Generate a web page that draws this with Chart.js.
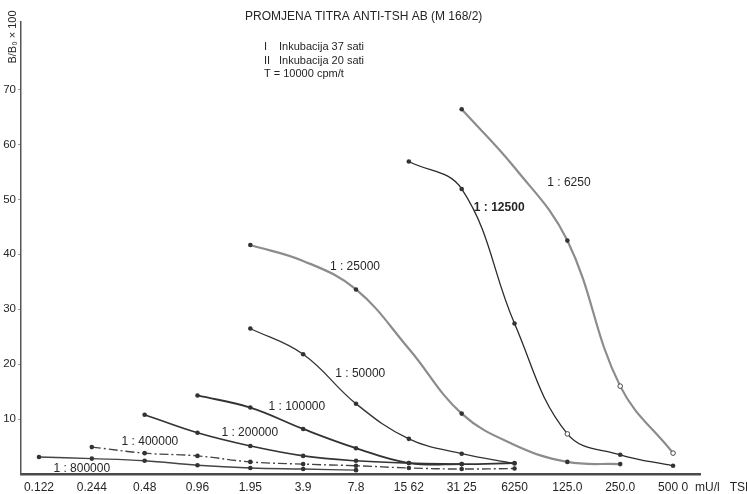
<!DOCTYPE html>
<html>
<head>
<meta charset="utf-8">
<script src="https://cdn.jsdelivr.net/npm/chart.js@4/dist/chart.umd.min.js"></script>
<style>
  html, body { margin: 0; padding: 0; background: #fff; }
  canvas { display: block; }
</style>
</head>
<body>
<canvas id="c" width="747" height="494"></canvas>
<script>
// TSH concentration steps (mU/l), as printed under the axis
const doses = ['0.122', '0.244', '0.48', '0.96', '1.95', '3.9', '7.8', '15 62', '31 25', '6250', '125.0', '250.0', '500 0'];

// B/B0 x 100 for each antibody dilution (null = not on that curve)
const dil6250   = [null, null, null, null, null, null, null, null, 66.4, 55.8, 42.5, 16.0, 3.8];
const dil12500  = [null, null, null, null, null, null, null, 56.9, 51.9, 27.4, 7.3, 3.5, 1.5];
const dil25000  = [null, null, null, null, 41.7, 38.8, 33.6, 22.8, 11.0, 5.3, 2.2, 1.8, null];
const dil50000  = [null, null, null, null, 26.5, 21.8, 12.8, 6.4, 3.7, 1.9, null, null, null];
const dil100000 = [null, null, null, 14.3, 12.1, 8.2, 4.7, 2.0, 1.8, 2.0, null, null, null];
const dil200000 = [null, null, 10.8, 7.5, 5.1, 3.3, 2.4, 2.0, 1.8, null, null, null, null];
const dil400000 = [null, 4.9, 3.8, 3.3, 2.2, 1.8, 1.5, 1.1, 0.9, 1.0, null, null, null];
const dil800000 = [3.1, 2.8, 2.4, 1.6, 1.1, 0.9, 0.7, null, null, null, null, null, null];

const dilutions = ['1 : 6250', '1 : 12500', '1 : 25000', '1 : 50000', '1 : 100000', '1 : 200000', '1 : 400000', '1 : 800000'];
const yTicks = [10, 20, 30, 40, 50, 60, 70];

const titleText = 'PROMJENA TITRA ANTI-TSH AB (M 168/2)';
const infoLines = [['I', 'Inkubacija 37 sati'], ['II', 'Inkubacija 20 sati'], ['', 'T = 10000 cpm/t']];
const yTitle = 'B/B\u2080 \u00d7 100';
const xUnit = 'mU/l   TSH';

const FONT = '"Liberation Sans", Arial, Helvetica, sans-serif';
const INK = '#262626';

const series = [dil6250, dil12500, dil25000, dil50000, dil100000, dil200000, dil400000, dil800000];

// line look per dilution: open = hollow markers, bare = curve passes without a marker
const looks = [
  { color: '#8c8c8c', width: 2.2, open: [11, 12], bare: [9] },
  { color: '#2a2a2a', width: 1.3, open: [10], bare: [] },
  { color: '#8c8c8c', width: 2.2, open: [], bare: [5, 7, 9] },
  { color: '#333333', width: 1.3, open: [], bare: [] },
  { color: '#333333', width: 1.8, open: [], bare: [] },
  { color: '#333333', width: 1.6, open: [], bare: [] },
  { color: '#444444', width: 1.4, open: [], bare: [], dash: [9, 3, 2, 3] },
  { color: '#444444', width: 1.4, open: [], bare: [] }
];

// where each dilution's name sits, in axis units (dose index, B/B0)
const labelAnchors = [
  { at: [10.03, 53.1] },
  { at: [8.71, 48.5], bold: true },
  { at: [5.98, 37.8] },
  { at: [6.08, 18.2] },
  { at: [4.88, 12.2] },
  { at: [3.99, 7.5] },
  { at: [2.10, 5.8] },
  { at: [0.81, 0.9] }
];

const datasets = series.map((vals, s) => {
  const look = looks[s];
  return {
    label: dilutions[s],
    data: doses.map((_, i) => ({ x: i, y: vals[i] })),
    spanGaps: true,
    tension: 0.4,
    borderColor: look.color,
    borderWidth: look.width,
    borderDash: look.dash || [],
    pointRadius: ctx => look.bare.includes(ctx.dataIndex) ? 0 : 2.3,
    pointBorderWidth: ctx => look.open.includes(ctx.dataIndex) ? 1 : 0,
    pointBorderColor: '#444',
    pointBackgroundColor: ctx => look.open.includes(ctx.dataIndex) ? '#ffffff' : '#333333'
  };
});

const annotations = {
  id: 'annotations',
  afterDraw(chart) {
    const { ctx, scales: { x, y } } = chart;
    ctx.save();
    ctx.fillStyle = INK;
    ctx.textBaseline = 'middle';

    ctx.textAlign = 'left';
    ctx.font = '12px ' + FONT;
    ctx.fillText(titleText, 245, 17);

    ctx.font = '11px ' + FONT;
    infoLines.forEach((ln, i) => {
      const yy = 47 + i * 13.5;
      if (ln[0]) {
        ctx.fillText(ln[0], 264, yy);
        ctx.fillText(ln[1], 279, yy);
      } else {
        ctx.fillText(ln[1], 264, yy);
      }
    });

    ctx.textAlign = 'center';
    labelAnchors.forEach((l, i) => {
      ctx.font = (l.bold ? 'bold ' : '') + '12px ' + FONT;
      ctx.fillText(dilutions[i], x.getPixelForValue(l.at[0]), y.getPixelForValue(l.at[1]));
    });

    ctx.textAlign = 'left';
    ctx.font = '12px ' + FONT;
    ctx.fillText(xUnit, 695, 488);

    ctx.translate(13, 37);
    ctx.rotate(-Math.PI / 2);
    ctx.textAlign = 'center';
    ctx.font = '11px ' + FONT;
    ctx.fillText(yTitle, 0, 0);
    ctx.restore();
  }
};

new Chart(document.getElementById('c'), {
  type: 'line',
  data: { datasets },
  plugins: [annotations],
  options: {
    responsive: false,
    animation: false,
    devicePixelRatio: 1,
    layout: { padding: { top: 22, right: 47, left: 0, bottom: 0 } },
    plugins: { legend: { display: false }, tooltip: { enabled: false } },
    scales: {
      x: {
        type: 'linear',
        min: -0.34,
        max: 12.51,
        afterBuildTicks: s => { s.ticks = doses.map((_, i) => ({ value: i })); },
        afterFit: s => { s.height = 20; },
        grid: { display: false, drawTicks: false },
        border: { color: '#4a4a4a', width: 2.5 },
        ticks: {
          autoSkip: false, maxRotation: 0, minRotation: 0, padding: 6,
          color: INK, font: { family: FONT, size: 12 },
          callback: v => doses[v]
        }
      },
      y: {
        min: 0,
        max: 82.3,
        afterBuildTicks: s => { s.ticks = yTicks.map(v => ({ value: v })); },
        afterFit: s => { s.width = 21; },
        grid: { drawOnChartArea: false, drawTicks: true, tickLength: 3, color: '#9a9a9a' },
        border: { color: '#555', width: 1.5 },
        ticks: { padding: 2, color: INK, font: { family: FONT, size: 11.5 } }
      }
    }
  }
});
</script>
</body>
</html>
